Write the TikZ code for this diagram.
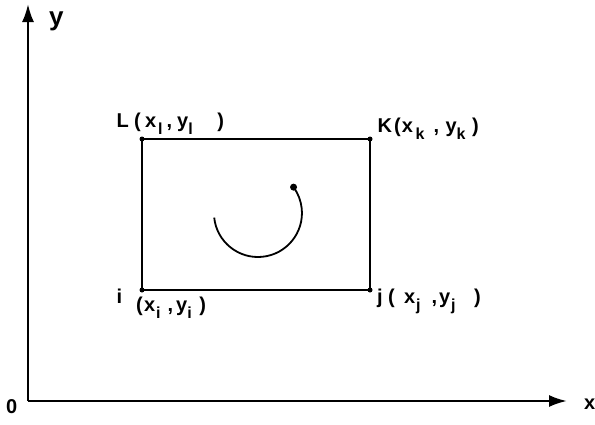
\documentclass[tikz,border=0pt]{standalone}
\usepackage{fontspec}
\setmainfont{Liberation Sans}
\usetikzlibrary{arrows.meta}
\newcommand\sbx[1]{\raisebox{-7pt}{\fontsize{16}{16}\selectfont #1}}
\newcommand\hs[1]{\hspace{#1pt}}
\begin{document}
\begin{tikzpicture}[x=1pt,y=-1pt,
  axis/.style={line width=2.4pt,-{Latex[length=18pt,width=12pt]}},
  edge/.style={line width=2pt},
  lbl/.style={anchor=base west,inner sep=0pt,font=\fontsize{20}{22}\selectfont\bfseries},
  cornerdot/.style={circle,fill,inner sep=0pt,minimum size=5pt}]
\useasboundingbox (0,0) rectangle (595,424);
% axes
\coordinate (O) at (28,401);
\coordinate (ytip) at (28,4);
\coordinate (xtip) at (567,401);
\draw[axis] (O) -- (ytip);
\draw[axis] (O) -- (xtip);
\node[lbl,font=\fontsize{26}{28}\selectfont\bfseries] (ylab) at (49,25) {y};
\node[lbl] (xlab) at (584,409) {x};
\node[lbl] (olab) at (6,413) {0};
% element
\coordinate (i) at (142,290);
\coordinate (j) at (370,290);
\coordinate (K) at (370,139);
\coordinate (L) at (142,139);
\draw[edge] (i) -- (j) -- (K) -- (L) -- cycle;
\foreach \c in {i,j,K,L} \node[cornerdot] at (\c) {};
% labels
\node[lbl] (Llab) at (116.5,127) {L\hs{5.3}(\hs{4.3}x\hs{1.9}\sbx{l}\hs{4.1},\hs{4.9}y\sbx{l}\hs{24.5})};
\node[lbl] (Klab) at (377.5,132) {K\hs{2.1}(\hs{1}x\hs{2.7}\sbx{k}\hs{9},\hs{6.4}y\sbx{k}\hs{6.5})};
\node[lbl] (ilab) at (116.5,303) {i};
\node[lbl] (iclab) at (136,311) {(\hs{1.3}x\hs{0.9}\sbx{i}\hs{7.1},\hs{2.9}y\sbx{i}\hs{7.6})};
\node[lbl] (jlab) at (377,303) {j\hs{5.4}(\hs{9.3}x\hs{0.9}\sbx{j}\hs{11.1},\hs{1.9}y\hs{0.9}\sbx{j}\hs{18.6})};
% rotation arc
\coordinate (arcstart) at (214.2,217.6);
\draw[line width=1.8pt] (arcstart) arc[start angle=-186,end angle=-396,radius=44] coordinate (arcend);
\node[cornerdot,minimum size=7pt] (arcdot) at (arcend) {};
\end{tikzpicture}
\end{document}
